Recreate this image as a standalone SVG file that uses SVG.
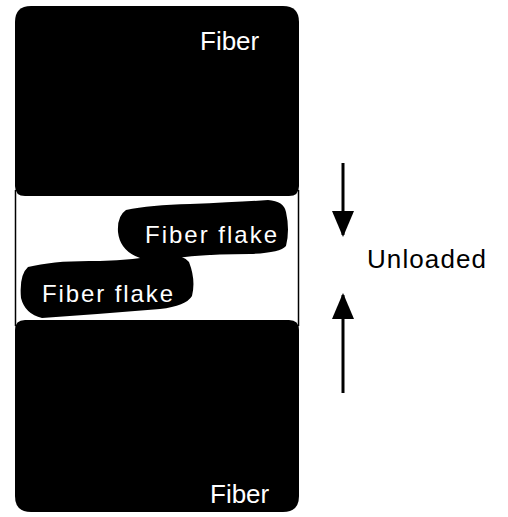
<svg xmlns="http://www.w3.org/2000/svg" width="508" height="517" viewBox="0 0 508 517">
  <style>
    .blk { fill: #000; }
    .lbl { font-family: "Liberation Sans", Arial, sans-serif; fill: #fff; }
    .side { stroke: #000; stroke-width: 1.5; fill: none; }
    .arr { stroke: #000; stroke-width: 3; fill: none; }
  </style>
  <defs>
    <marker id="head" viewBox="0 0 26 22" refX="24" refY="11" markerWidth="26" markerHeight="22" markerUnits="userSpaceOnUse" orient="auto">
      <path d="M0,0 L26,11 L0,22 Z" fill="#000"/>
    </marker>
  </defs>
  <rect width="508" height="517" fill="#fff"/>

  <!-- gap walls between the two fibers -->
  <g id="gap">
    <line class="side" x1="15.5" y1="190" x2="15.5" y2="326"/>
    <line class="side" x1="298.5" y1="190" x2="298.5" y2="326"/>
  </g>

  <g id="fiber-top">
    <path class="blk" d="M15,22 Q15,6 31,6 L283,6 Q299,6 299,22 L299,186 Q299,196 289,196 L25,196 Q15,196 15,186 Z"/>
    <text class="lbl" x="200" y="50" font-size="26">Fiber</text>
  </g>

  <g id="fiber-bottom">
    <path class="blk" d="M15,330 Q15,320 25,320 L289,320 Q299,320 299,330 L299,496 Q299,512 283,512 L31,512 Q15,512 15,496 Z"/>
    <text class="lbl" x="210" y="503" font-size="26">Fiber</text>
  </g>

  <g id="flake-upper">
    <path class="blk" d="M126,210 Q150,205 190,204 Q240,202 268,200 Q284,201 286,212 Q290,230 286,246 Q280,253 250,254 Q210,254 185,257 Q165,260 140,258 Q120,251 118,232 Q117,216 126,210 Z"/>
    <text class="lbl" x="145" y="243" font-size="24" textLength="132" lengthAdjust="spacing">Fiber flake</text>
  </g>

  <g id="flake-lower">
    <path class="blk" d="M28,267 Q55,260 100,261 Q135,260 160,255 Q182,253 189,262 Q196,280 192,296 Q186,306 160,309 Q100,314 42,318 Q25,314 21,298 Q19,275 28,267 Z"/>
    <text class="lbl" x="42" y="302" font-size="24" textLength="131" lengthAdjust="spacing">Fiber flake</text>
  </g>

  <g id="connectors">
    <line class="arr" x1="343" y1="163" x2="343" y2="235" marker-end="url(#head)"/>
    <line class="arr" x1="343" y1="393" x2="343" y2="295" marker-end="url(#head)"/>
  </g>

  <g id="load-label">
    <text x="367" y="268" font-size="26" textLength="119" lengthAdjust="spacing" font-family="Liberation Sans, Arial, sans-serif" fill="#000">Unloaded</text>
  </g>
</svg>
